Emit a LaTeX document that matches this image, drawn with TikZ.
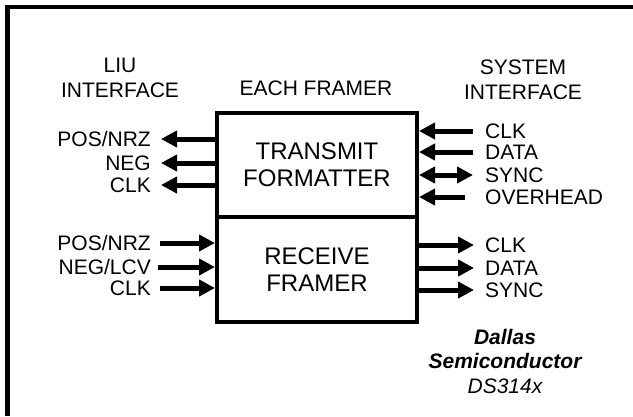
\documentclass[tikz,border=0pt]{standalone}
\usepackage{fontspec}
\setmainfont{Liberation Sans}
\usetikzlibrary{arrows.meta}
\tikzset{
  txt/.style={inner sep=0pt, align=center, font=\fontsize{21}{25}\selectfont},
  blk/.style={draw, line width=4pt, minimum width=200pt, inner sep=0pt,
    align=center, font=\fontsize{24}{27}\selectfont},
  sig/.style={line width=5pt, -{Triangle[length=16pt,width=16pt]}},
  bisig/.style={line width=5pt, {Triangle[length=16pt,width=16pt]}-{Triangle[length=16pt,width=16pt]}},
}
\begin{document}
\begin{tikzpicture}[x=1pt,y=-1pt]
  \useasboundingbox (0,0) rectangle (633,416);

  % Frame (top and left edge only)
  \draw [line width=4.5pt] (7.5,416) -- (7.5,7) -- (633,7);%

  % Headings
  \node [txt] (liu) at (120,77.5) {LIU\\INTERFACE};%
  \node [txt] (each) at (316,88) {EACH FRAMER};%
  \node [txt] (sys) at (523,80) {SYSTEM\\INTERFACE};%

  % Blocks
  \node [blk, minimum height=104pt] (tx) at (317,165) {TRANSMIT\\FORMATTER};%
  \node [blk, minimum height=105pt] (rx) at (317,269.5) {RECEIVE\\FRAMER};%

  % LIU side of the transmit formatter
  \node [txt, anchor=east] (tpos) at (151,139) {POS/NRZ};%
  \node [txt, anchor=east] (tneg) at (151,163) {NEG};%
  \node [txt, anchor=east] (tclk) at (151,185) {CLK};%
  \coordinate (tposend) at (161,139);
  \coordinate (tnegend) at (161,163);
  \coordinate (tclkend) at (161,185);
  \draw [sig] (tx.west |- tposend) -- (tposend);%
  \draw [sig] (tx.west |- tnegend) -- (tnegend);%
  \draw [sig] (tx.west |- tclkend) -- (tclkend);%

  % System side of the transmit formatter
  \node [txt, anchor=west] (sclk) at (485,131) {CLK};%
  \node [txt, anchor=west] (sdata) at (485,152) {DATA};%
  \node [txt, anchor=west] (ssync) at (485,175) {SYNC};%
  \node [txt, anchor=west] (sovh) at (485,197) {OVERHEAD};%
  \coordinate (sclkend) at (473,131);
  \coordinate (sdataend) at (473,152);
  \coordinate (ssyncend) at (473,175);
  \coordinate (sovhend) at (465,197);
  \draw [sig] (sclkend) -- (tx.east |- sclkend);%
  \draw [sig] (sdataend) -- (tx.east |- sdataend);%
  \draw [bisig] (tx.east |- ssyncend) -- (ssyncend);%
  \draw [sig] (sovhend) -- (tx.east |- sovhend);%

  % LIU side of the receive framer
  \node [txt, anchor=east] (rpos) at (151,243) {POS/NRZ};%
  \node [txt, anchor=east] (rneg) at (151,267) {NEG/LCV};%
  \node [txt, anchor=east] (rclk) at (151,288) {CLK};%
  \coordinate (rposend) at (160,243);
  \coordinate (rnegend) at (158,267);
  \coordinate (rclkend) at (160,288);
  \draw [sig] (rposend) -- (rx.west |- rposend);%
  \draw [sig] (rnegend) -- (rx.west |- rnegend);%
  \draw [sig] (rclkend) -- (rx.west |- rclkend);%

  % System side of the receive framer
  \node [txt, anchor=west] (oclk) at (485,245) {CLK};%
  \node [txt, anchor=west] (odata) at (485,268) {DATA};%
  \node [txt, anchor=west] (osync) at (485,290) {SYNC};%
  \coordinate (oclkend) at (474,245);
  \coordinate (odataend) at (474,268);
  \coordinate (osyncend) at (474,290);
  \draw [sig] (rx.east |- oclkend) -- (oclkend);%
  \draw [sig] (rx.east |- odataend) -- (odataend);%
  \draw [sig] (rx.east |- osyncend) -- (osyncend);%

  % Maker mark
  \node [txt, font=\fontsize{21}{24.5}\selectfont\itshape] (maker) at (505,361)
    {\textbf{Dallas}\\\textbf{Semiconductor}\\DS314x};%
\end{tikzpicture}
\end{document}
